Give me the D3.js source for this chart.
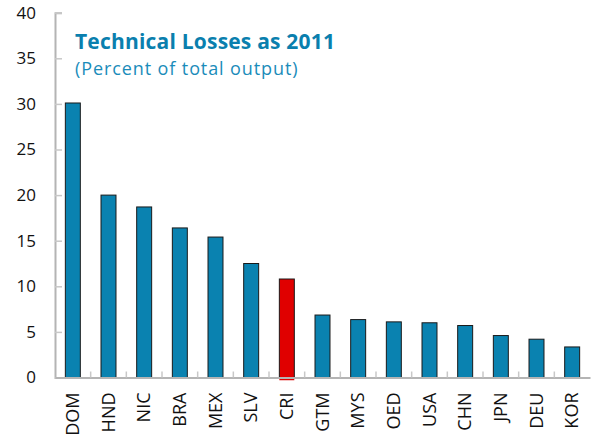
<!DOCTYPE html>
<html>
<head>
<meta charset="utf-8">
<script src="https://cdn.jsdelivr.net/npm/d3@7"></script>
<style>
  body { margin: 0; background: #fff; }
  text { font-family: "Open Sans", "DejaVu Sans", sans-serif; }
</style>
</head>
<body>
<svg id="chart" width="592" height="442"></svg>
<script>
// data
var countries = ["DOM", "HND", "NIC", "BRA", "MEX", "SLV", "CRI", "GTM", "MYS", "OED", "USA", "CHN", "JPN", "DEU", "KOR"];
var losses = [30.1, 20.0, 18.7, 16.4, 15.4, 12.5, 10.8, 6.85, 6.35, 6.1, 6.0, 5.7, 4.6, 4.2, 3.35];
var highlight = ["CRI"];
var yTicks = [0, 5, 10, 15, 20, 25, 30, 35, 40];

var svg = d3.select('#chart');
var mLeft = 55, mRight = 590, mTop = 12.7, mBottom = 377.5;

var x = d3.scaleBand().domain(countries).range([mLeft, mRight]).paddingInner(0.58).paddingOuter(0.29);
var xb = d3.scaleBand().domain(countries).range([mLeft, mRight]);
var y = d3.scaleLinear().domain([0, 40]).range([mBottom, mTop]);

var data = countries.map(function(c, i) { return {c: c, v: losses[i]}; });

// y axis
var yAxis = d3.axisRight(y).tickValues(yTicks).tickSize(7).tickFormat('');
var gy = svg.append('g').attr('transform', 'translate(' + mLeft + ',0)').call(yAxis);
gy.select('.domain').attr('stroke', '#b4b4b4').attr('stroke-width', 2);
gy.selectAll('.tick line').attr('stroke', '#c8c8c8').attr('stroke-width', 1.5);

svg.selectAll('text.ylab').data(yTicks).enter().append('text')
  .attr('class', 'ylab')
  .attr('x', 36).attr('y', function(d) { return y(d); })
  .attr('dy', '0.35em')
  .attr('text-anchor', 'end')
  .attr('font-size', 17).attr('fill', '#111')
  .text(function(d) { return d; });

// bars
svg.selectAll('rect.bar').data(data).enter().append('rect')
  .attr('class', 'bar')
  .attr('x', function(d) { return x(d.c); })
  .attr('width', x.bandwidth())
  .attr('y', function(d) { return y(d.v); })
  .attr('height', function(d) { return y(0) - y(d.v); })
  .attr('fill', function(d) { return highlight.indexOf(d.c) >= 0 ? '#e00000' : '#0a82b0'; })
  .attr('stroke', '#1a1a1a').attr('stroke-width', 1);

// red underline of highlighted bar
svg.selectAll('line.hl').data(data.filter(function(d) { return highlight.indexOf(d.c) >= 0; }))
  .enter().append('line')
  .attr('x1', function(d) { return x(d.c); })
  .attr('x2', function(d) { return x(d.c) + x.bandwidth(); })
  .attr('y1', mBottom + 2).attr('y2', mBottom + 2)
  .attr('stroke', '#e00000').attr('stroke-width', 1.5);

// x axis
var xAxis = d3.axisTop(x).tickSize(0).tickFormat('');
var gx = svg.append('g').attr('transform', 'translate(0,' + mBottom + ')').call(xAxis);
gx.select('.domain').attr('stroke', '#b4b4b4').attr('stroke-width', 2);

// separators between categories
svg.selectAll('line.sep').data(countries.slice(1)).enter().append('line')
  .attr('class', 'sep')
  .attr('x1', function(d) { return xb(d); }).attr('x2', function(d) { return xb(d); })
  .attr('y1', mBottom).attr('y2', mBottom - 6)
  .attr('stroke', '#c8c8c8').attr('stroke-width', 1.5);

svg.selectAll('text.xlab').data(countries).enter().append('text')
  .attr('class', 'xlab')
  .attr('transform', function(d) { return 'translate(' + (x(d) + x.bandwidth() / 2) + ',' + (mBottom + 15) + ') rotate(-90)'; })
  .attr('dy', '0.35em')
  .attr('text-anchor', 'end')
  .attr('font-size', 18).attr('fill', '#111')
  .text(function(d) { return d; });

// titles
svg.append('text').attr('x', 75).attr('y', 49)
  .attr('font-size', 21).attr('font-weight', 'bold').attr('fill', '#0a7fae')
  .attr('letter-spacing', 0.2)
  .text('Technical Losses as 2011');
svg.append('text').attr('x', 75).attr('y', 75)
  .attr('font-size', 18).attr('fill', '#1a8cba')
  .attr('letter-spacing', 0.9)
  .text('(Percent of total output)');
</script>
</body>
</html>
